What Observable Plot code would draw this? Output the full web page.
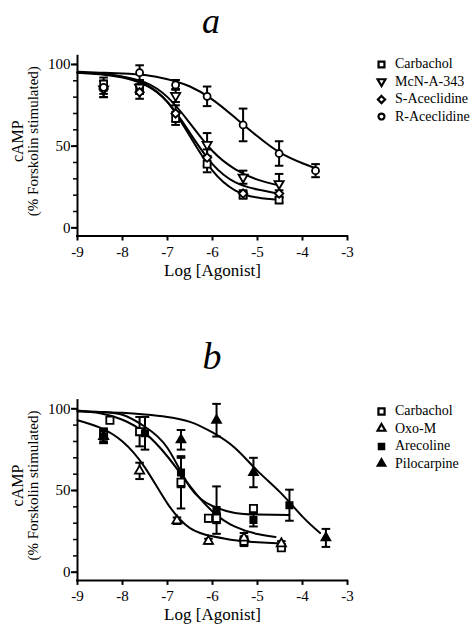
<!DOCTYPE html>
<html><head><meta charset="utf-8">
<script src="https://cdn.jsdelivr.net/npm/d3@7"></script>
<script src="https://cdn.jsdelivr.net/npm/@observablehq/plot@0.6"></script>
<style>
body{margin:0;background:#fff;font-family:'Liberation Serif','DejaVu Serif',serif;color:#000;}
#root{position:relative;width:475px;height:630px;overflow:hidden;background:#fff;}
.panel{position:absolute;left:0;width:475px;}
.title{position:absolute;font-style:italic;line-height:normal;white-space:nowrap;transform:translateX(-50%);}
.legend{position:absolute;left:374px;font-size:14px;}
.legend .row{display:flex;align-items:center;height:17.5px;white-space:nowrap;}
.legend svg{width:15px;height:15px;margin-right:6px;flex:none;}
svg text{font-family:'Liberation Serif','DejaVu Serif',serif;}
</style></head><body><div id="root"></div>
<script>
// ---------- shared axis data ----------
const xDomain = [-9, -3];
const yDomain = [-5, 105];
const xTicks = [-9, -8, -7, -6, -5, -4, -3];
const yTicks = [0, 50, 100];
const yMinorTicks = [0, 10, 20, 30, 40, 50, 60, 70, 80, 90, 100];
const xLabel = "Log [Agonist]";
const yLabel1 = "cAMP";
const yLabel2 = "(% Forskolin stimulated)";

// ---------- panel a ----------
const aSeries = ["Carbachol", "McN-A-343", "S-Aceclidine", "R-Aceclidine"];
const aDoseX = [-8.42, -7.62, -6.82, -6.12, -5.32, -4.52];
const aDoseXR = [-8.42, -7.62, -6.82, -6.12, -5.32, -4.52, -3.71];
const aCarbachol = [88, 85, 67, 39, 20, 17];
const aCarbacholErr = [4, 3, 4, 5, 2, 1.5];
const aMcN = [85, 86, 81, 51, 31, 27];
const aMcNErr = [5, 4, 4, 7, 4, 6];
const aSAcec = [85, 83, 70, 43, 21, 21];
const aSAcecErr = [5, 4, 5, 5, 2, 2];
const aRAcec = [86, 95, 87.5, 80.5, 63, 45.5, 35];
const aRAcecErr = [4, 4.5, 3, 6, 10, 7.5, 4];
// fitted curves
const aCurveX = [-9, -8.5, -8, -7.5, -7, -6.5, -6, -5.5, -5, -4.52];
const aCurveCarbachol = [95, 94.3, 92.5, 88, 77, 56, 35, 23, 18.5, 17];
const aCurveMcN = [95, 94.5, 92.5, 89, 80, 64, 47, 36, 29.5, 26];
const aCurveSAcec = [95, 94, 92, 87.5, 77, 58, 39, 28, 23.5, 21];
const aCurveXR = [-9, -8.5, -8, -7.5, -7, -6.5, -6, -5.5, -5, -4.5, -4, -3.71];
const aCurveRAcec = [95.5, 95, 94.5, 93.5, 91, 86.5, 78.5, 67.5, 56, 46, 39.5, 36.5];

// ---------- panel b ----------
const bSeries = ["Carbachol", "Oxo-M", "Arecoline", "Pilocarpine"];
const bCarbacholX = [-8.42, -8.28, -7.62, -6.70, -6.09, -5.91, -5.30, -5.09, -4.47];
const bCarbachol = [84, 93, 86, 55, 33, 33, 19, 39, 15];
const bCarbacholErr = [4, 0, 9, 16, 2, 3, 3, 0, 1];
const bOxoX = [-8.42, -7.62, -6.79, -6.09, -5.30, -4.47];
const bOxo = [83, 62, 31.5, 19, 21, 17.5];
const bOxoErr = [4, 5, 2, 1.5, 3, 1.5];
const bArecX = [-8.42, -7.5, -6.7, -5.91, -5.09, -4.29];
const bArec = [83, 85, 61, 38, 32, 41];
const bArecErr = [4, 10, 9, 14.5, 4, 9.5];
const bPiloX = [-6.7, -5.91, -5.09, -3.48];
const bPilo = [81, 93, 61, 21];
const bPiloErr = [6, 10, 9, 5.5];
// fitted curves
const bCurveXCarbachol = [-9, -8.5, -8, -7.5, -7, -6.5, -6, -5.5, -5, -4.6];
const bCurveCarbachol = [98.9, 97.2, 93.3, 85.1, 70.8, 52.7, 37.2, 27.9, 23.4, 21.6];
const bCurveXOxo = [-9, -8.5, -8, -7.5, -7, -6.5, -6, -5.5, -5, -4.47];
const bCurveOxo = [93, 88.5, 80, 64, 42, 27, 22, 19.5, 18.3, 17.5];
const bCurveXArec = [-9, -8.5, -8, -7.5, -7, -6.5, -6, -5.5, -5, -4.3];
const bCurveArec = [98.5, 98, 96.3, 89, 76, 52, 40.5, 36.3, 35.3, 35];
const bCurveXPilo = [-9, -8.5, -8, -7.5, -7, -6.5, -6, -5.5, -5, -4.5, -4, -3.61];
const bCurvePilo = [98.5, 98, 97.5, 96.5, 95, 92, 85.5, 76, 62, 49, 34, 24];

// ---------- styles ----------
const FONT = "'Liberation Serif','DejaVu Serif',serif";
const styleA = {
  "Carbachol": {symbol: "square2", r: 4.4, fill: "white", rotate: 0},
  "McN-A-343": {symbol: "triangle2", r: 4.4, fill: "white", rotate: 180},
  "S-Aceclidine": {symbol: "diamond2", r: 3.8, fill: "white", rotate: 0},
  "R-Aceclidine": {symbol: "circle", r: 3.5, fill: "white", rotate: 0}
};
const styleB = {
  "Carbachol": {symbol: "square2", r: 4.6, fill: "white", rotate: 0},
  "Oxo-M": {symbol: "triangle2", r: 4.4, fill: "white", rotate: 0},
  "Arecoline": {symbol: "square2", r: 4.0, fill: "black", rotate: 0},
  "Pilocarpine": {symbol: "triangle2", r: 4.2, fill: "black", rotate: 0}
};
const symbolTypes = {square2: d3.symbolSquare2, triangle2: d3.symbolTriangle2, diamond2: d3.symbolDiamond2, circle: d3.symbolCircle};

const capSymbol = {draw(ctx, size) { const w = Math.sqrt(size / Math.PI); ctx.moveTo(-w, 0); ctx.lineTo(w, 0); }};

function rows(series, xs, ys, es) {
  return xs.map((x, i) => ({series, x, y: ys[i], e: es ? es[i] : 0}));
}

function panel({points, curves, styles, height, marginTop, marginBottom}) {
  const bars = points.filter(d => d.e > 0);
  const seriesNames = Object.keys(styles);
  return Plot.plot({
    width: 475, height,
    marginLeft: 77, marginRight: 128, marginTop, marginBottom,
    x: {domain: xDomain},
    y: {domain: yDomain},
    style: {fontFamily: FONT, fontSize: "15px", color: "#000", background: "white", overflow: "visible"},
    marks: [
      Plot.ruleX([xDomain[0]], {stroke: "black", strokeWidth: 2, strokeLinecap: "square"}),
      Plot.ruleY([yDomain[0]], {stroke: "black", strokeWidth: 2, strokeLinecap: "square"}),
      Plot.axisX({ticks: xTicks, tickSize: 5, tickPadding: 5, strokeWidth: 2, tickFormat: d => String(d), label: null, fontSize: 15}),
      Plot.axisY({ticks: yTicks, tickSize: 6, tickPadding: 1, strokeWidth: 2, tickFormat: d => String(d), label: null, fontSize: 15}),
      Plot.axisY({ticks: yMinorTicks, tickSize: 4, strokeWidth: 1.5, text: null, label: null}),
      Plot.text([xLabel], {text: d => d, frameAnchor: "bottom", dy: 40, fontSize: 17}),
      Plot.text([yLabel1], {text: d => d, frameAnchor: "left", textAnchor: "middle", rotate: -90, dx: -60, dy: -5, fontSize: 16}),
      Plot.text([yLabel2], {text: d => d, frameAnchor: "left", textAnchor: "middle", rotate: -90, dx: -44, dy: -5, fontSize: 15}),
      Plot.ruleX(bars, {x: "x", y1: d => d.y - d.e, y2: d => d.y + d.e, stroke: "black", strokeWidth: 2}),
      Plot.dot(bars, {x: "x", y: d => d.y + d.e, symbol: capSymbol, r: 4.3, stroke: "black", strokeWidth: 2}),
      Plot.dot(bars, {x: "x", y: d => d.y - d.e, symbol: capSymbol, r: 4.3, stroke: "black", strokeWidth: 2}),
      Plot.line(curves, {x: "x", y: "y", z: "series", curve: "natural", stroke: "black", strokeWidth: 2}),
      ...seriesNames.map(s => {
        const st = styles[s];
        return Plot.dot(points.filter(d => d.series === s), {
          x: "x", y: "y", symbol: st.symbol, r: st.r, fill: st.fill, stroke: "black", strokeWidth: 1.8, rotate: st.rotate
        });
      })
    ]
  });
}

function legend(names, styles, top) {
  const div = document.createElement("div");
  div.className = "legend";
  div.style.top = top + "px";
  for (const n of names) {
    const st = styles[n];
    const row = document.createElement("div");
    row.className = "row";
    const svg = d3.create("svg").attr("viewBox", "-7.5 -7.5 15 15");
    const size = Math.PI * Math.pow(st.r * 0.85, 2);
    svg.append("path").attr("d", d3.symbol(symbolTypes[st.symbol], size)())
      .attr("transform", `rotate(${st.rotate})`)
      .attr("fill", st.fill).attr("stroke", "black").attr("stroke-width", 2.2);
    row.appendChild(svg.node());
    const t = document.createElement("span");
    t.textContent = n;
    row.appendChild(t);
    div.appendChild(row);
  }
  return div;
}

const root = document.getElementById("root");

// panel a
const aPoints = [
  ...rows("Carbachol", aDoseX, aCarbachol, aCarbacholErr),
  ...rows("McN-A-343", aDoseX, aMcN, aMcNErr),
  ...rows("S-Aceclidine", aDoseX, aSAcec, aSAcecErr),
  ...rows("R-Aceclidine", aDoseXR, aRAcec, aRAcecErr)
];
const aCurves = [
  ...rows("Carbachol", aCurveX, aCurveCarbachol),
  ...rows("McN-A-343", aCurveX, aCurveMcN),
  ...rows("S-Aceclidine", aCurveX, aCurveSAcec),
  ...rows("R-Aceclidine", aCurveXR, aCurveRAcec)
];
const pa = document.createElement("div");
pa.className = "panel"; pa.style.top = "0px";
pa.appendChild(panel({points: aPoints, curves: aCurves, styles: styleA, height: 310, marginTop: 55.8, marginBottom: 74.5}));
root.appendChild(pa);

// panel b
const bPoints = [
  ...rows("Carbachol", bCarbacholX, bCarbachol, bCarbacholErr),
  ...rows("Oxo-M", bOxoX, bOxo, bOxoErr),
  ...rows("Arecoline", bArecX, bArec, bArecErr),
  ...rows("Pilocarpine", bPiloX, bPilo, bPiloErr)
];
const bCurves = [
  ...rows("Carbachol", bCurveXCarbachol, bCurveCarbachol),
  ...rows("Oxo-M", bCurveXOxo, bCurveOxo),
  ...rows("Arecoline", bCurveXArec, bCurveArec),
  ...rows("Pilocarpine", bCurveXPilo, bCurvePilo)
];
const pb = document.createElement("div");
pb.className = "panel"; pb.style.top = "320px";
pb.appendChild(panel({points: bPoints, curves: bCurves, styles: styleB, height: 310, marginTop: 80.1, marginBottom: 50.1}));
root.appendChild(pb);

// titles
const ta = document.createElement("div");
ta.className = "title"; ta.textContent = "a";
ta.style.left = "211px"; ta.style.top = "0px"; ta.style.fontSize = "36px";
root.appendChild(ta);
const tb = document.createElement("div");
tb.className = "title"; tb.textContent = "b";
tb.style.left = "212px"; tb.style.top = "334px"; tb.style.fontSize = "38px";
root.appendChild(tb);

// legends
root.appendChild(legend(aSeries, styleA, 55.5));
root.appendChild(legend(bSeries, styleB, 402.7));
</script>
</body></html>
